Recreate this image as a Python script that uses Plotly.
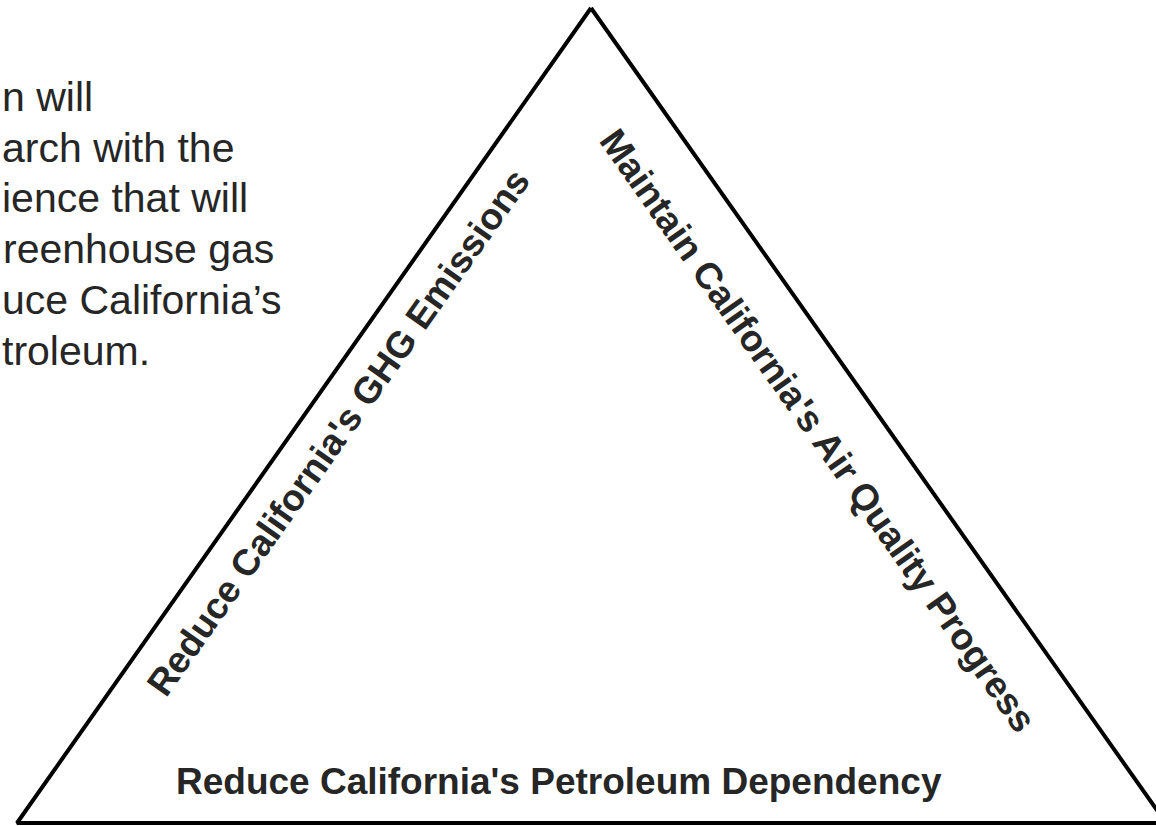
import plotly.graph_objects as go

# Triangle outline vertices (apex, bottom-left, bottom-right, back to apex)
tri_x = [591, 17, 1166, 591]
tri_y = [8, 823, 823, 8]

# Side labels
side_labels = [
    "Reduce California's GHG Emissions",
    "Maintain California's Air Quality Progress",
    "Reduce California's Petroleum Dependency",
]
label_x = [338, 818, 559]
label_y = [432, 430, 781]
label_angle = [-54.8, 54.8, 0]

# Left text block (visible fragments, clipped at the left edge)
block_lines = [
    "n will",
    "arch with the",
    "ience that will",
    "reenhouse gas",
    "uce California\u2019s",
    "troleum.",
]
block_left = [0, 0, 0, 1, 0, 0]
block_y = [97, 148, 198, 249, 300, 351]

TEXT_COLOR = "#262626"
FONT = "Arial, Liberation Sans, sans-serif"

fig = go.Figure()
fig.add_trace(go.Scatter(
    x=tri_x, y=tri_y, mode="lines",
    line=dict(color="black", width=4),
    hoverinfo="skip", showlegend=False,
))

annotations = []
for t, x, y, a in zip(side_labels, label_x, label_y, label_angle):
    annotations.append(dict(
        x=x, y=y, xref="x", yref="y", text=f"<b>{t}</b>", showarrow=False,
        textangle=a, xanchor="center", yanchor="middle",
        font=dict(family=FONT, size=37, color=TEXT_COLOR),
    ))
for t, x, y in zip(block_lines, block_left, block_y):
    annotations.append(dict(
        x=x, y=y, xref="x", yref="y", text=t, showarrow=False,
        xanchor="left", yanchor="middle",
        font=dict(family=FONT, size=41, color=TEXT_COLOR),
    ))

fig.update_layout(
    width=1156, height=826,
    margin=dict(l=0, r=0, t=0, b=0),
    paper_bgcolor="white", plot_bgcolor="white",
    xaxis=dict(range=[0, 1156], visible=False, fixedrange=True),
    yaxis=dict(range=[826, 0], visible=False, fixedrange=True),
    annotations=annotations,
    showlegend=False,
)
fig.write_html(
    "out.html",
    config={"displayModeBar": False},
    post_script="document.body.style.margin='0';document.body.style.overflow='hidden';",
)
